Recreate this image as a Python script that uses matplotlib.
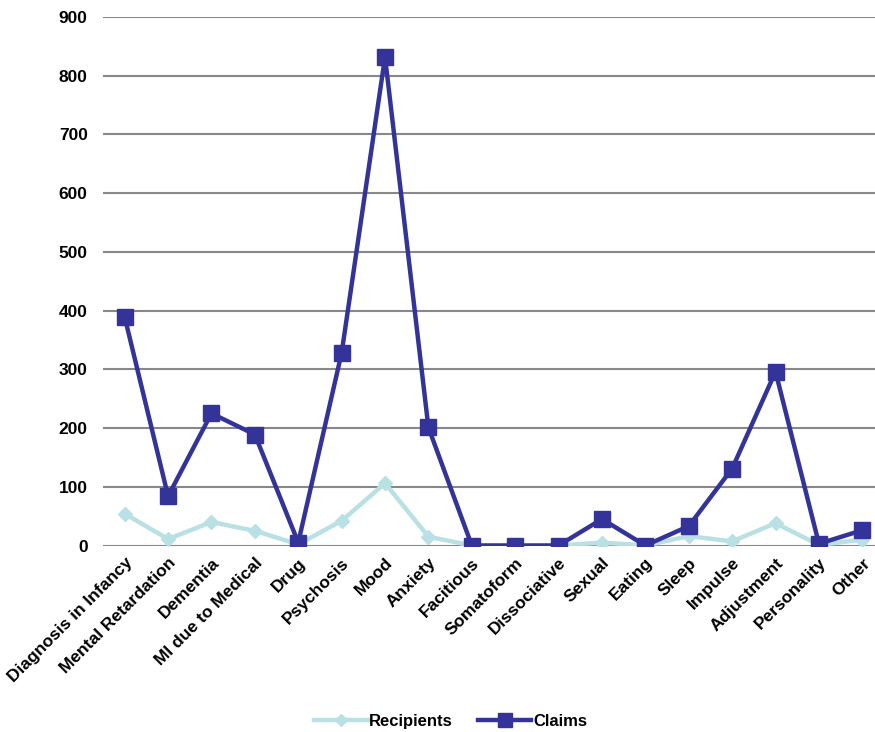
import matplotlib
matplotlib.use("Agg")
import matplotlib.pyplot as plt
import numpy as np

categories = ["Diagnosis in Infancy", "Mental Retardation", "Dementia", "MI due to Medical",
              "Drug", "Psychosis", "Mood", "Anxiety", "Facitious", "Somatoform",
              "Dissociative", "Sexual", "Eating", "Sleep", "Impulse", "Adjustment",
              "Personality", "Other"]
recipients = [54, 11, 40, 25, 2, 42, 106, 15, 0, 0, 0, 5, 0, 16, 7, 38, 1, 10]
claims = [389, 84, 225, 189, 5, 328, 832, 201, 0, 0, 0, 45, 0, 33, 131, 296, 3, 26]
yticks = [0, 100, 200, 300, 400, 500, 600, 700, 800, 900]

plt.rcParams['font.family'] = ['Liberation Sans', 'DejaVu Sans']

fig = plt.figure(figsize=(8.75, 7.32), dpi=100)
W, H = 875, 732
left, right, top, bottom = 103, 884, 17, 545.5
ax = fig.add_axes([left / W, 1 - bottom / H, (right - left) / W, (bottom - top) / H])

x = np.arange(len(categories))
ax.plot(x, recipients, color='#b9e0e2', lw=3.2, marker='D', ms=7, label='Recipients', zorder=3)
ax.plot(x, claims, color='#333399', lw=3.2, marker='s', ms=11, label='Claims', zorder=4)

ax.set_xlim(-0.5, len(categories) - 0.5)
ax.set_ylim(0, 900)
ax.set_yticks(yticks)
ax.set_yticklabels([str(v) for v in yticks], fontsize=12.5, fontweight='bold')
ax.yaxis.grid(True, color='#888888', lw=1.5)
ax.set_axisbelow(True)
for s in ax.spines.values():
    s.set_visible(False)
ax.tick_params(axis='both', length=0)
ax.tick_params(axis='y', pad=11)
ax.set_xticks(x)
ax.set_xticklabels(categories, rotation=45, ha='right', rotation_mode='anchor',
                   fontsize=12.5, fontweight='bold')
ax.tick_params(axis='x', pad=7)

fig.legend(loc='lower center', bbox_to_anchor=(0.515, -0.016), ncol=2, frameon=False,
           prop={'size': 12, 'weight': 'bold'}, handlelength=3.2, columnspacing=1.5,
           handletextpad=0.1, markerscale=0.9)

fig.savefig('out.png', dpi=100)
